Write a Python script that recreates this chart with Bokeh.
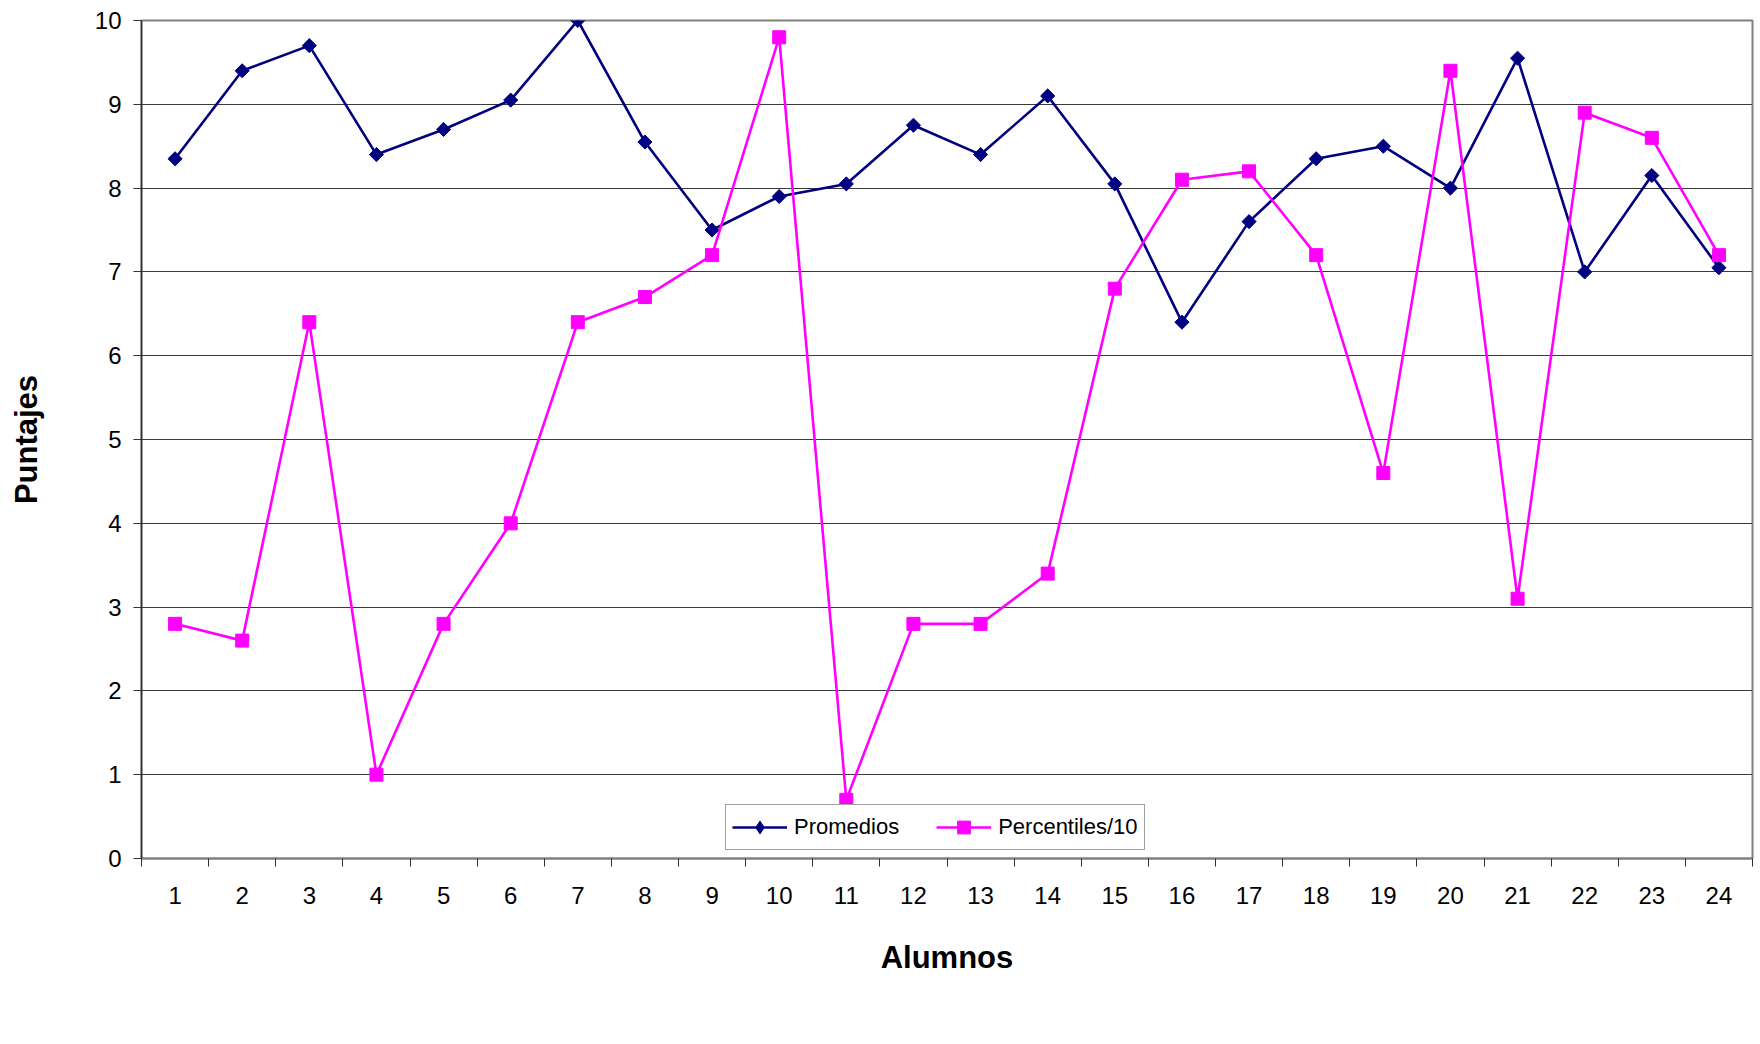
import numpy as np
from bokeh.plotting import figure
from bokeh.models import FixedTicker, Legend, Range1d
from bokeh.embed import file_html
from bokeh.resources import INLINE

alumnos = list(range(1, 25))
promedios = [8.35, 9.4, 9.7, 8.4, 8.7, 9.05, 10.0, 8.55, 7.5, 7.9, 8.05, 8.75,
             8.4, 9.1, 8.05, 6.4, 7.6, 8.35, 8.5, 8.0, 9.55, 7.0, 8.15, 7.05]
percentiles10 = [2.8, 2.6, 6.4, 1.0, 2.8, 4.0, 6.4, 6.7, 7.2, 9.8, 0.7, 2.8,
                 2.8, 3.4, 6.8, 8.1, 8.2, 7.2, 4.6, 9.4, 3.1, 8.9, 8.6, 7.2]
y_ticks = list(range(0, 11))
x_label = "Alumnos"
y_label = "Puntajes"
series_names = ["Promedios", "Percentiles/10"]

FONT = "Liberation Sans"

p = figure(frame_width=1611, frame_height=838, output_backend="svg", toolbar_location=None,
           x_range=Range1d(0.5, 24.5), y_range=Range1d(0, 10),
           min_border_left=141, min_border_right=6, min_border_top=20,
           min_border_bottom=0)
p.outline_line_color = "#808080"
p.outline_line_width = 2
p.background_fill_color = "white"
p.border_fill_color = "white"

# grid
p.xgrid.visible = False
p.ygrid.ticker = FixedTicker(ticks=y_ticks)
p.ygrid.grid_line_color = "#3a3a3a"
p.ygrid.grid_line_width = 1

# x axis
xa = p.xaxis[0]
xa.ticker = FixedTicker(ticks=alumnos, minor_ticks=[a - 0.5 for a in alumnos] + [24.5])
xa.major_tick_out = 0
xa.major_tick_in = 0
xa.minor_tick_out = 8
xa.minor_tick_in = 0
xa.minor_tick_line_color = "#303030"
xa.minor_tick_line_width = 1
xa.axis_line_color = "#808080"
xa.axis_line_width = 2
xa.major_label_text_font = FONT
xa.major_label_text_font_size = "24px"
xa.major_label_text_color = "black"
xa.major_label_standoff = 20
xa.axis_label = x_label
xa.axis_label_text_font = FONT
xa.axis_label_text_font_size = "31px"
xa.axis_label_text_font_style = "bold"
xa.axis_label_text_color = "black"
xa.axis_label_standoff = 33

# y axis
ya = p.yaxis[0]
ya.ticker = FixedTicker(ticks=y_ticks)
ya.major_tick_out = 8
ya.major_tick_in = 0
ya.minor_tick_out = 0
ya.minor_tick_in = 0
ya.major_tick_line_color = "#303030"
ya.axis_line_color = "#303030"
ya.axis_line_width = 1.5
ya.major_label_text_font = FONT
ya.major_label_text_font_size = "24px"
ya.major_label_text_color = "black"
ya.major_label_standoff = 12
ya.axis_label = y_label
ya.axis_label_text_font = FONT
ya.axis_label_text_font_size = "31px"
ya.axis_label_text_font_style = "bold"
ya.axis_label_text_color = "black"
ya.axis_label_standoff = 48

# series
r1 = p.line(alumnos, promedios, line_color="#000080", line_width=2.6)
r2 = p.scatter(alumnos, promedios, marker="square", angle=np.pi / 4, size=10,
               fill_color="#000080", line_color="#000080")
r2_key = p.scatter(alumnos, promedios, marker="diamond", size=14,
                   fill_color="#000080", line_color="#000080", visible=False)
r3 = p.line(alumnos, percentiles10, line_color="#FF00FF", line_width=2.6)
r4 = p.scatter(alumnos, percentiles10, marker="square", size=13,
               fill_color="#FF00FF", line_color="#FF00FF")

legend = Legend(items=[(series_names[0], [r1, r2_key]), (series_names[1], [r3, r4])],
                orientation="horizontal", location=(584, 8))
legend.label_text_font = FONT
legend.label_text_font_size = "22px"
legend.label_text_color = "black"
legend.glyph_width = 55
legend.glyph_height = 32
legend.label_height = 32
legend.label_standoff = 7
legend.spacing = 37
legend.padding = 6
legend.margin = 0
legend.border_line_color = "#404040"
legend.border_line_width = 1
legend.background_fill_color = "white"
legend.background_fill_alpha = 1
p.add_layout(legend, "center")

open("out.html", "w").write(file_html(p, INLINE))
